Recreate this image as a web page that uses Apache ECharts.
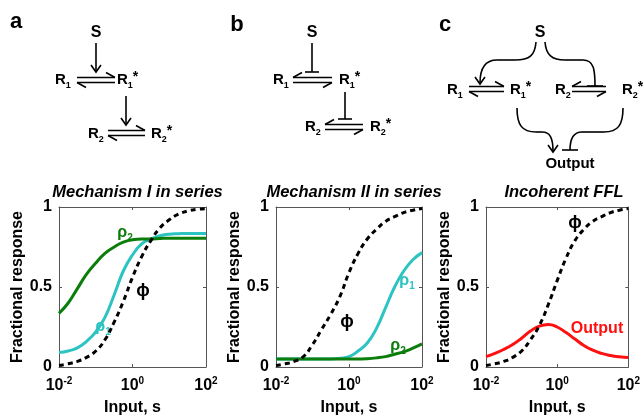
<!DOCTYPE html>
<html>
<head>
<meta charset="utf-8">
<script src="https://cdn.jsdelivr.net/npm/echarts@6/dist/echarts.min.js"></script>
<style>
html, body { margin: 0; padding: 0; background: #fff; }
#chart { width: 643px; height: 417px; }
</style>
</head>
<body>
<div id="chart"></div>
<script>
// input s, as log10(s)
const logS = [-2, -1.75, -1.5, -1.25, -1, -0.75, -0.5, -0.25, 0, 0.25, 0.5, 0.75, 1, 1.25, 1.5, 1.75, 2];

// a: Mechanism I in series
const phiA  = [0.01, 0.02, 0.035, 0.06, 0.10, 0.17, 0.28, 0.41, 0.56, 0.69, 0.79, 0.87, 0.92, 0.955, 0.975, 0.985, 0.99];
const rho1A = [0.09, 0.10, 0.12, 0.16, 0.22, 0.31, 0.45, 0.60, 0.70, 0.77, 0.80, 0.82, 0.83, 0.833, 0.835, 0.835, 0.835];
const rho2A = [0.335, 0.40, 0.49, 0.58, 0.65, 0.71, 0.75, 0.78, 0.795, 0.80, 0.80, 0.803, 0.805, 0.805, 0.805, 0.805, 0.805];

// b: Mechanism II in series
const phiB  = [0.01, 0.02, 0.035, 0.065, 0.14, 0.235, 0.33, 0.44, 0.59, 0.71, 0.80, 0.86, 0.91, 0.94, 0.965, 0.98, 0.99];
const rho1B = [0.05, 0.05, 0.05, 0.05, 0.05, 0.05, 0.05, 0.055, 0.065, 0.10, 0.15, 0.24, 0.37, 0.50, 0.60, 0.67, 0.715];
const rho2B = [0.05, 0.05, 0.05, 0.05, 0.05, 0.05, 0.05, 0.05, 0.05, 0.05, 0.052, 0.057, 0.065, 0.08, 0.095, 0.118, 0.145];

// c: Incoherent FFL
const phiC    = [0.01, 0.02, 0.035, 0.06, 0.10, 0.17, 0.26, 0.39, 0.54, 0.68, 0.79, 0.86, 0.91, 0.94, 0.965, 0.98, 0.99];
const outputC = [0.065, 0.085, 0.11, 0.14, 0.18, 0.225, 0.255, 0.265, 0.25, 0.215, 0.175, 0.135, 0.105, 0.085, 0.072, 0.064, 0.06];

const titles = ['Mechanism I in series', 'Mechanism II in series', 'Incoherent FFL'];
const xTicks = [-2, 0, 2];
const yTicks = [0, 0.5, 1];

const FONT = 'Liberation Sans';
const GREEN = '#0a7d0a';
const CYAN = '#2cc3c3';
const RED = '#ff1010';
const FRAME = '#555';

const grids = [
  { left: 59, top: 207, width: 147, height: 162 },
  { left: 276, top: 207, width: 146, height: 162 },
  { left: 486, top: 207, width: 146, height: 162 }
];

function pairs(arr) {
  return logS.map((x, i) => [x, arr[i]]);
}

const frameLine = { show: true, onZero: false, lineStyle: { color: FRAME, width: 1 } };
const frameTick = { show: true, inside: true, length: 3, lineStyle: { color: FRAME } };

let xAxes = [], yAxes = [], titleList = [];
grids.forEach((g, i) => {
  xAxes.push({
    gridIndex: i, type: 'value', min: xTicks[0], max: xTicks[2], interval: 2,
    name: 'Input, s', nameLocation: 'middle', nameGap: 33,
    nameTextStyle: { fontFamily: FONT, fontWeight: 'bold', fontSize: 16, color: '#000' },
    axisLine: frameLine, axisTick: frameTick,
    splitLine: { show: false },
    axisLabel: {
      margin: 9,
      formatter: v => '{b|10}{s|' + v + '}',
      rich: {
        b: { fontFamily: FONT, fontWeight: 'bold', fontSize: 16, color: '#000', verticalAlign: 'bottom', lineHeight: 18 },
        s: { fontFamily: FONT, fontWeight: 'bold', fontSize: 10, color: '#000', verticalAlign: 'top', lineHeight: 18 }
      }
    }
  });
  xAxes.push({
    gridIndex: i, type: 'value', position: 'top', min: -2, max: 2, interval: 2,
    axisLine: frameLine, axisTick: frameTick,
    axisLabel: { show: false }, splitLine: { show: false }
  });
  yAxes.push({
    gridIndex: i, type: 'value', min: yTicks[0], max: yTicks[2], interval: 0.5,
    name: 'Fractional response', nameLocation: 'middle', nameGap: 33,
    nameTextStyle: { fontFamily: FONT, fontWeight: 'bold', fontSize: 16, color: '#000' },
    axisLine: frameLine, axisTick: frameTick,
    splitLine: { show: false },
    axisLabel: {
      margin: 7, color: '#000', fontFamily: FONT, fontWeight: 'bold', fontSize: 16,
      formatter: v => String(v)
    }
  });
  yAxes.push({
    gridIndex: i, type: 'value', position: 'right', min: 0, max: 1, interval: 0.5,
    axisLine: frameLine, axisTick: frameTick,
    axisLabel: { show: false }, splitLine: { show: false }
  });
  titleList.push({
    text: titles[i],
    left: g.left + g.width / 2, top: 179, textAlign: 'center',
    textStyle: { fontFamily: FONT, fontWeight: 'bold', fontStyle: 'italic', fontSize: 16.5, color: '#000' }
  });
});

function line(name, arr, gi, color, dashed) {
  return {
    name: name, type: 'line', xAxisIndex: gi * 2, yAxisIndex: gi * 2,
    data: pairs(arr), smooth: true, showSymbol: false, symbol: 'none', silent: true,
    lineStyle: { color: color, width: 3, type: dashed ? [5, 4] : 'solid' },
    z: dashed ? 3 : 2
  };
}

const series = [
  line('rho1', rho1A, 0, CYAN), line('rho2', rho2A, 0, GREEN), line('phi', phiA, 0, '#000', true),
  line('rho1', rho1B, 1, CYAN), line('rho2', rho2B, 1, GREEN), line('phi', phiB, 1, '#000', true),
  line('output', outputC, 2, RED), line('phi', phiC, 2, '#000', true)
];

// ---- diagram helpers ----
const S_BLACK = { stroke: '#000', lineWidth: 1.6, fill: null };

function txt(x, y, str, size, color, align) {
  return {
    type: 'text', x: x, y: y,
    style: { text: str, fontFamily: FONT, fontWeight: 'bold', fontSize: size || 15, fill: color || '#000',
             align: align || 'center', verticalAlign: 'middle' }
  };
}
function species(x, y, sub, star) {
  return {
    type: 'text', x: x, y: y,
    style: {
      text: '{r|R}' + (sub ? '{s|' + sub + '}' : '') + (star ? '{t|*}' : ''),
      align: 'left', verticalAlign: 'middle',
      rich: {
        r: { fontFamily: FONT, fontWeight: 'bold', fontSize: 15, fill: '#000', verticalAlign: 'middle', lineHeight: 20 },
        s: { fontFamily: FONT, fontWeight: 'bold', fontSize: 9, fill: '#000', verticalAlign: 'bottom', lineHeight: 20 },
        t: { fontFamily: FONT, fontWeight: 'bold', fontSize: 14, fill: '#000', verticalAlign: 'top', lineHeight: 20 }
      }
    }
  };
}
function rhoLabel(x, y, sub, color) {
  return {
    type: 'text', x: x, y: y,
    style: {
      text: '{r|ρ}{s|' + sub + '}', align: 'center', verticalAlign: 'middle',
      rich: {
        r: { fontFamily: FONT, fontWeight: 'bold', fontSize: 16, fill: color, verticalAlign: 'middle', lineHeight: 20 },
        s: { fontFamily: FONT, fontWeight: 'bold', fontSize: 10, fill: color, verticalAlign: 'bottom', lineHeight: 20 }
      }
    }
  };
}
function seg(x1, y1, x2, y2) {
  return { type: 'line', shape: { x1: x1, y1: y1, x2: x2, y2: y2 }, style: S_BLACK };
}
function poly(points) {
  return { type: 'polyline', shape: { points: points }, style: S_BLACK };
}
function curve(x1, y1, c1x, c1y, c2x, c2y, x2, y2) {
  return { type: 'bezierCurve', shape: { x1: x1, y1: y1, cpx1: c1x, cpy1: c1y, cpx2: c2x, cpy2: c2y, x2: x2, y2: y2 }, style: S_BLACK };
}
function headDown(x, y) {
  return poly([[x - 5, y - 7], [x, y], [x + 5, y - 7]]);
}
function arrowDown(x, y1, y2) {
  return [seg(x, y1, x, y2), headDown(x, y2)];
}
function tDown(x, y1, y2, half) {
  return [seg(x, y1, x, y2), seg(x - half, y2, x + half, y2)];
}
// equilibrium harpoons: fwd = top barb at right end, bottom barb at left end
function eq(x1, x2, y, fwd) {
  const yt = y - 2.5, yb = y + 2.5;
  const out = [seg(x1, yt, x2, yt), seg(x1, yb, x2, yb)];
  if (fwd) {
    out.push(seg(x2, yt, x2 - 9, yt - 5));
    out.push(seg(x1, yb, x1 + 9, yb + 5));
  } else {
    out.push(seg(x1, yt, x1 + 9, yt - 5));
    out.push(seg(x2, yb, x2 - 9, yb + 5));
  }
  return out;
}

const graphics = [
  txt(16, 22, 'a', 22),
  txt(237, 25, 'b', 22),
  txt(445, 25, 'c', 22),

  // a
  txt(96, 33, 'S', 16),
  ...arrowDown(96, 43, 72),
  species(55, 80, '1', false),
  ...eq(77, 115, 80, true),
  species(117, 80, '1', true),
  ...arrowDown(126, 96, 125),
  species(88, 134, '2', false),
  ...eq(108, 145, 133, true),
  species(151, 134, '2', true),

  // b
  txt(312, 33, 'S', 16),
  ...tDown(312, 43, 72, 7),
  species(273, 80, '1', false),
  ...eq(293, 332, 80, false),
  species(339, 80, '1', true),
  ...tDown(345, 92, 119, 7),
  species(305, 127, '2', false),
  ...eq(325, 363, 127, false),
  species(370, 127, '2', true),

  // c
  txt(540, 33, 'S', 16),
  curve(536, 42, 535, 55, 530, 60, 515, 60),
  seg(515, 60, 497, 60),
  curve(497, 60, 485, 60, 480, 68, 480, 83),
  headDown(480, 84),
  curve(545, 42, 546, 55, 552, 60, 565, 60),
  seg(565, 60, 583, 60),
  curve(583, 60, 594, 60, 595, 70, 595, 86),
  seg(587, 86, 603, 86),
  species(447, 90, '1', false),
  ...eq(469, 504, 89, true),
  species(510, 90, '1', true),
  species(555, 90, '2', false),
  ...eq(572, 606, 89, false),
  species(622, 90, '2', true),
  curve(517, 108, 517, 125, 522, 132, 536, 132),
  seg(536, 132, 542, 132),
  curve(542, 132, 550, 132, 553, 138, 553, 151),
  headDown(553, 152),
  curve(623, 108, 623, 125, 618, 132, 604, 132),
  seg(604, 132, 582, 132),
  curve(582, 132, 574, 132, 570, 138, 570, 150),
  seg(562, 150, 578, 150),
  txt(570, 164, 'Output', 15),

  // curve labels
  rhoLabel(125, 233, '2', GREEN),
  rhoLabel(103, 327, '1', CYAN),
  txt(143, 291, 'ϕ', 18),
  rhoLabel(407, 281, '1', CYAN),
  txt(347, 322, 'ϕ', 18),
  rhoLabel(398, 346, '2', GREEN),
  txt(575, 223, 'ϕ', 18),
  txt(597, 329, 'Output', 16, RED)
];

const chart = echarts.init(document.getElementById('chart'), null, { renderer: 'canvas' });
chart.setOption({
  backgroundColor: '#fff',
  animation: false,
  title: titleList,
  grid: grids,
  xAxis: xAxes,
  yAxis: yAxes,
  series: series,
  graphic: { elements: graphics }
});
</script>
</body>
</html>
